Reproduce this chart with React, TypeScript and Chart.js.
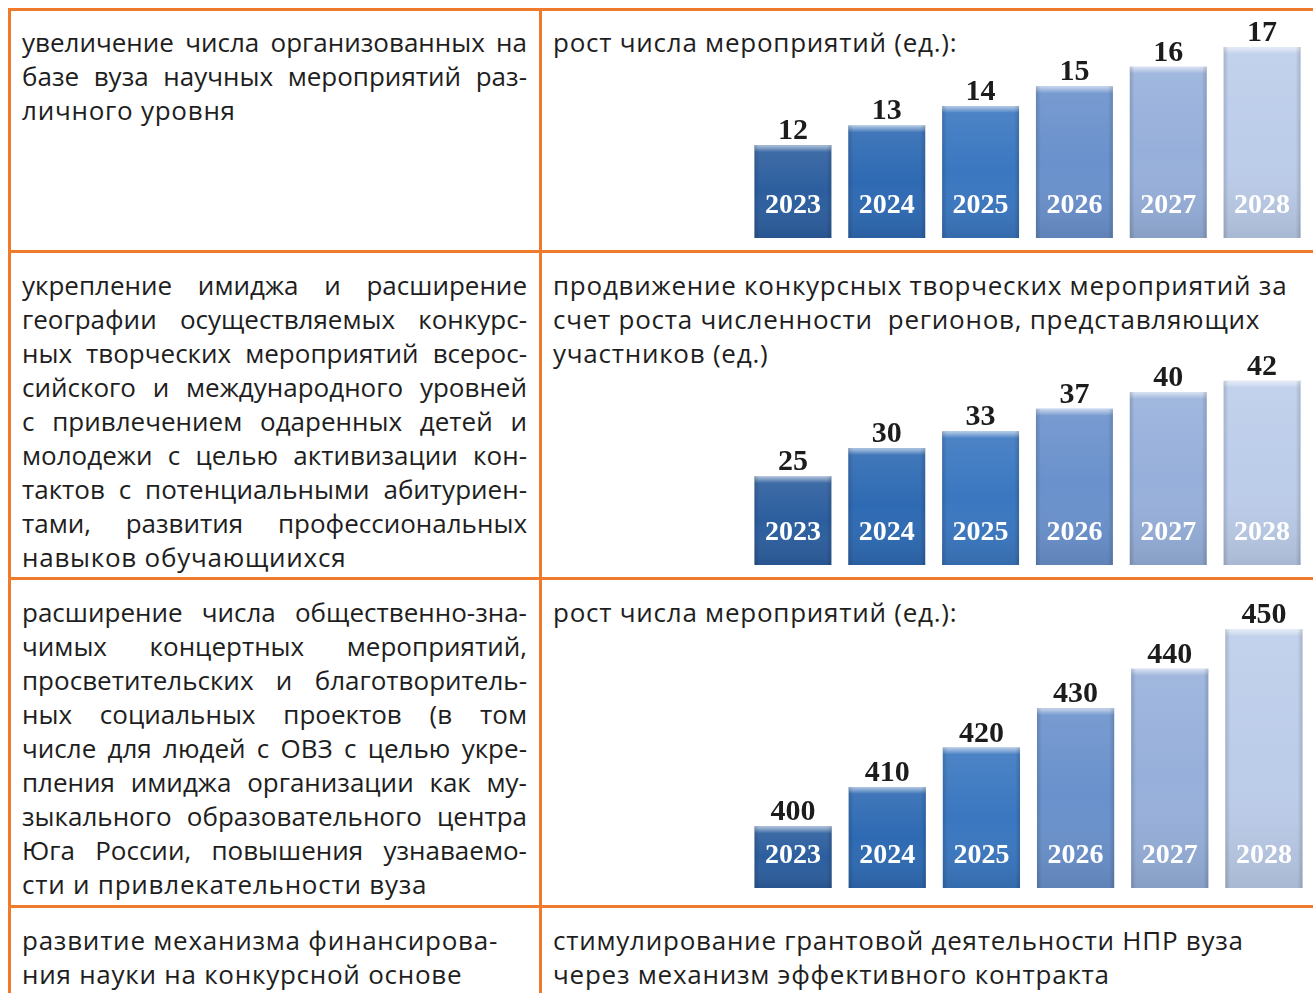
import React, { useEffect, useRef } from "react";
import { Chart, registerables } from "chart.js";

Chart.register(...registerables);

// ---- data ----
const years = ["2023", "2024", "2025", "2026", "2027", "2028"];
const scienceEvents = [12, 13, 14, 15, 16, 17];
const contestRegions = [25, 30, 33, 37, 40, 42];
const concertEvents = [400, 410, 420, 430, 440, 450];
const barColors = ["#2C5E9E", "#2E6AB3", "#3A77C0", "#6A91CC", "#97B0DB", "#BCCDEA"];

const leftRow1 = [
  ["увеличение числа организованных на", "j"],
  ["базе вуза научных мероприятий раз-", "j"],
  ["личного уровня", "l"],
];
const leftRow2 = [
  ["укрепление имиджа и расширение", "j"],
  ["географии осуществляемых конкурс-", "j"],
  ["ных творческих мероприятий всерос-", "j"],
  ["сийского и международного уровней", "j"],
  ["с привлечением одаренных детей и", "j"],
  ["молодежи с целью активизации кон-", "j"],
  ["тактов с потенциальными абитуриен-", "j"],
  ["тами, развития профессиональных", "j"],
  ["навыков обучающиихся", "l"],
];
const leftRow3 = [
  ["расширение числа общественно-зна-", "j"],
  ["чимых концертных мероприятий,", "j"],
  ["просветительских и благотворитель-", "j"],
  ["ных социальных проектов (в том", "j"],
  ["числе для людей с ОВЗ с целью укре-", "j"],
  ["пления имиджа организации как му-", "j"],
  ["зыкального образовательного центра", "j"],
  ["Юга России, повышения узнаваемо-", "j"],
  ["сти и привлекательности вуза", "l"],
];
const leftRow4 = [
  ["развитие механизма финансирова-", "l"],
  ["ния науки на конкурсной основе", "l"],
];
const rightRow1 = ["рост числа мероприятий (ед.):"];
const rightRow2 = [
  "продвижение конкурсных творческих мероприятий за",
  "счет роста численности  регионов, представляющих",
  "участников (ед.)",
];
const rightRow3 = ["рост числа мероприятий (ед.):"];
const rightRow4 = [
  "стимулирование грантовой деятельности НПР вуза",
  "через механизм эффективного контракта",
];

const ORANGE = "#EF7A2C";
const FONT = "'Open Sans', 'Noto Sans', sans-serif";
const FS = 26;
const LS = 0.75;
const LS_JUST = 0;
const LH = 34;

const barDecor = {
  id: "barDecor",
  afterDatasetsDraw(chart: any) {
    const ctx = chart.ctx;
    const meta = chart.getDatasetMeta(0);
    const data = chart.data.datasets[0].data;
    const labels = chart.data.labels;
    const bottom = chart.chartArea.bottom;
    meta.data.forEach((bar: any, i: number) => {
      const { x, y, width } = bar.getProps(["x", "y", "width"], true);
      const base = bottom;
      const l = x - width / 2;
      const r = x + width / 2;
      const h = base - y;
      ctx.save();
      let g = ctx.createLinearGradient(0, y, 0, base);
      g.addColorStop(0, "rgba(255,255,255,0.10)");
      g.addColorStop(0.5, "rgba(255,255,255,0)");
      g.addColorStop(1, "rgba(0,0,0,0.10)");
      ctx.fillStyle = g;
      ctx.fillRect(l, y, width, h);
      g = ctx.createLinearGradient(0, y, 0, y + 7);
      g.addColorStop(0, "rgba(255,255,255,0.6)");
      g.addColorStop(1, "rgba(255,255,255,0)");
      ctx.fillStyle = g;
      ctx.fillRect(l, y, width, 7);
      g = ctx.createLinearGradient(l, 0, l + 5, 0);
      g.addColorStop(0, "rgba(0,0,0,0.15)");
      g.addColorStop(1, "rgba(0,0,0,0)");
      ctx.fillStyle = g;
      ctx.fillRect(l, y, 5, h);
      g = ctx.createLinearGradient(r - 5, 0, r, 0);
      g.addColorStop(0, "rgba(0,0,0,0)");
      g.addColorStop(1, "rgba(0,0,0,0.15)");
      ctx.fillStyle = g;
      ctx.fillRect(r - 5, y, 5, h);

      ctx.fillStyle = "#ffffff";
      ctx.font = "bold 28px 'Liberation Serif', serif";
      ctx.textAlign = "center";
      ctx.textBaseline = "alphabetic";
      ctx.fillText(String(labels[i]), x, base - 25);

      ctx.fillStyle = "#1c1c1c";
      ctx.font = "bold 30px 'Liberation Serif', serif";
      ctx.fillText(String(data[i]), x, y - 6);
      ctx.restore();
    });
  },
};

function BarChart(props: { values: number[]; min: number; max: number; left: number; top: number; width: number; height: number }) {
  const ref = useRef<HTMLCanvasElement | null>(null);
  useEffect(() => {
    if (!ref.current) return;
    const chart = new Chart(ref.current, {
      type: "bar",
      data: {
        labels: years,
        datasets: [
          {
            data: props.values,
            backgroundColor: barColors,
            borderWidth: 0,
            barPercentage: 0.82,
            categoryPercentage: 1,
          },
        ],
      },
      options: {
        responsive: false,
        animation: false,
        devicePixelRatio: 1,
        layout: { padding: 0 },
        plugins: { legend: { display: false }, tooltip: { enabled: false } },
        scales: {
          x: { display: false, offset: true },
          y: { display: false, min: props.min, max: props.max },
        },
      },
      plugins: [barDecor],
    } as any);
    return () => chart.destroy();
  }, []);
  return (
    <canvas
      ref={ref}
      width={props.width}
      height={props.height}
      style={{ position: "absolute", left: props.left, top: props.top, width: props.width, height: props.height }}
    />
  );
}

function TextLines(props: { lines: any[]; left: number; top: number; width: number }) {
  return (
    <div style={{ position: "absolute", left: props.left, top: props.top, width: props.width }}>
      {props.lines.map((ln: any, i: number) => {
        const text = Array.isArray(ln) ? ln[0] : ln;
        const just = Array.isArray(ln) && ln[1] === "j";
        return (
          <div
            key={i}
            style={{
              height: LH,
              lineHeight: LH + "px",
              whiteSpace: just ? "nowrap" : "pre",
              textAlign: just ? "justify" : "left",
              textAlignLast: just ? "justify" : "left",
              fontFamily: FONT,
              fontSize: FS,
              letterSpacing: just ? LS_JUST : LS,
              color: "#1e1e1e",
            } as any}
          >
            {text}
          </div>
        );
      })}
    </div>
  );
}

function Line(p: { left: number; top: number; width: number; height: number }) {
  return <div style={{ position: "absolute", left: p.left, top: p.top, width: p.width, height: p.height, background: ORANGE }} />;
}

export default function App() {
  return (
    <div style={{ position: "fixed", left: 0, top: 0, width: 1313, height: 993, overflow: "hidden", background: "#ffffff" }}>
      <Line left={8} top={8} width={1305} height={3} />
      <Line left={8} top={8} width={3} height={985} />
      <Line left={539} top={8} width={3} height={985} />
      <Line left={8} top={250} width={1305} height={3} />
      <Line left={8} top={577} width={1305} height={3} />
      <Line left={8} top={905} width={1305} height={3} />

      <TextLines lines={leftRow1} left={22} top={25} width={505} />
      <TextLines lines={leftRow2} left={22} top={268} width={505} />
      <TextLines lines={leftRow3} left={22} top={595} width={505} />
      <TextLines lines={leftRow4} left={22} top={923} width={505} />

      <TextLines lines={rightRow1} left={553} top={25} width={755} />
      <TextLines lines={rightRow2} left={553} top={268} width={755} />
      <TextLines lines={rightRow3} left={553} top={595} width={755} />
      <TextLines lines={rightRow4} left={553} top={923} width={755} />

      <BarChart values={scienceEvents} min={7.26} max={18.79} left={746} top={12} width={563} height={226} />
      <BarChart values={contestRegions} min={9.16} max={49.27} left={746} top={340} width={563} height={225} />
      <BarChart values={concertEvents} min={384.34} max={457.44} left={746} top={600} width={565} height={288} />
    </div>
  );
}
